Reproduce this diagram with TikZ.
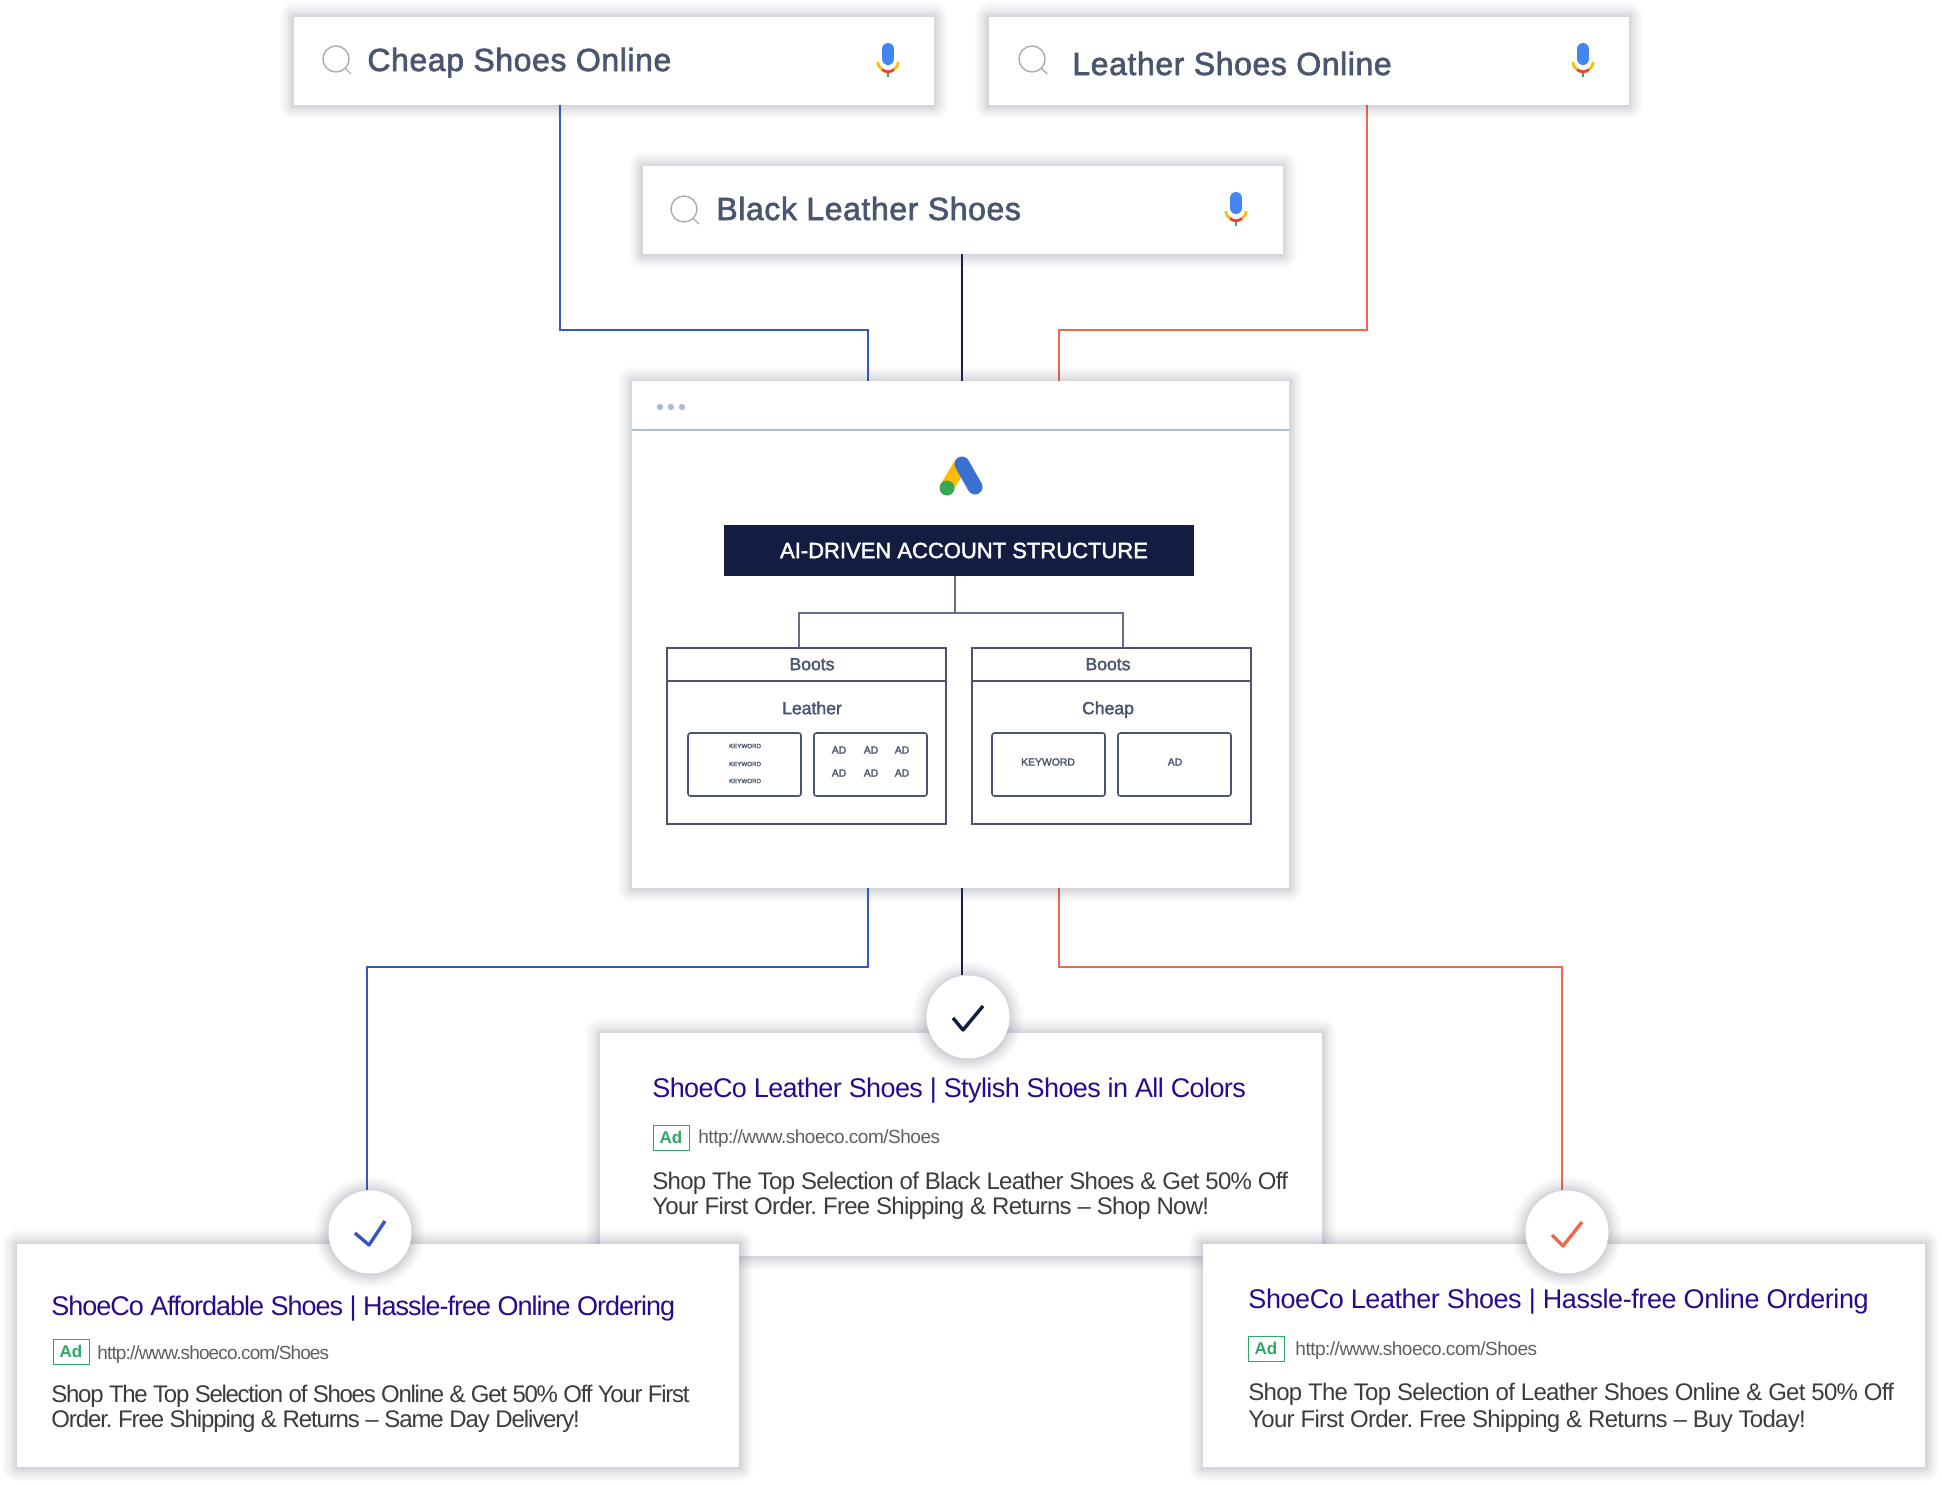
\documentclass[tikz,border=0pt]{standalone}
\usepackage{fontspec}
\setmainfont{Liberation Sans}
\newfontfamily\uifont[FakeBold=2]{Liberation Sans}
\usetikzlibrary{positioning,calc,backgrounds}
\definecolor{linkblue}{HTML}{3558C0}
\definecolor{linkred}{HTML}{F0674F}
\definecolor{navyink}{HTML}{141C42}
\definecolor{slateink}{HTML}{4A5570}
\definecolor{adpurple}{HTML}{2A0A8C}
\definecolor{adgreen}{HTML}{2FA866}
\definecolor{bodygray}{HTML}{3C3C3C}
\definecolor{urlgray}{HTML}{5F5F5F}
\definecolor{ruleblue}{HTML}{AEBBD6}
\definecolor{shadowgray}{HTML}{555A70}
\definecolor{gblue}{HTML}{4285F4}
\definecolor{gred}{HTML}{EA4335}
\definecolor{gyellow}{HTML}{FBBC04}
\definecolor{ggreen}{HTML}{34A853}
\tikzset{
  shadowring/.style={preaction={draw=shadowgray,opacity=.028,line width=#1,line join=round}},
  softshadow/.style={shadowring/.list={1.5pt,2.5pt,3.5pt,4.5pt,5.5pt,7pt,8.5pt,10pt,12pt,14pt}},
  searchbox/.style={fill=white,softshadow,minimum width=320pt,minimum height=44pt,inner sep=0pt},
  adcard/.style={fill=white,softshadow,minimum width=361pt,minimum height=111.5pt,inner sep=0pt},
  checkdisc/.style={circle,fill=white,softshadow,minimum size=41.5pt,inner sep=0pt},
  searchtext/.style={anchor=base west,inner sep=0pt,text=slateink,font=\uifont\fontsize{16}{16}\selectfont\addfontfeatures{LetterSpace=1.8}},
  boxtext/.style={text=slateink,text height=7.2pt,text depth=1pt,font=\uifont\fontsize{8.8}{8.8}\selectfont,inner sep=0pt},
  tinytext/.style={text=slateink,font=\uifont\fontsize{3.1}{3.1}\selectfont,inner sep=0pt},
  leaftext/.style={text=slateink,font=\uifont\fontsize{5.2}{5.2}\selectfont,inner sep=0pt},
  adtitle/.style={anchor=base west,inner sep=0pt,text=adpurple,font=\fontsize{13.5}{13.5}\selectfont\addfontfeatures{LetterSpace=#1}},
  adtitle/.default=-2.2,
  adurl/.style={anchor=base west,inner sep=0pt,text=urlgray,font=\fontsize{9.5}{9.5}\selectfont\addfontfeatures{LetterSpace=#1}},
  adurl/.default=-2.6,
  adbody/.style={anchor=base west,inner sep=0pt,text=bodygray,font=\fontsize{12}{12}\selectfont\addfontfeatures{LetterSpace=#1}},
  adbody/.default=-3.1,
  adtag/.style={draw=adgreen,line width=.5pt,text=adgreen,minimum width=18pt,minimum height=12.5pt,inner sep=0pt,font=\bfseries\fontsize{8.5}{8.5}\selectfont},
  groupbox/.style={draw=slateink,line width=1pt,minimum width=139.5pt,minimum height=88pt,inner sep=0pt},
  cellbox/.style={draw=slateink,line width=.8pt,rounded corners=1.2pt,minimum width=56.5pt,minimum height=31.5pt,inner sep=0pt},
  wire/.style={line width=1.4pt},
  tick/.style={line width=1.7pt,line join=round},
  pics/magnifier/.style={code={
    \draw[draw=black!32,line width=.7pt](0,0)circle(13);
    \draw[draw=black!32,line width=.7pt](9,9)--(15,15);}},
  pics/mic/.style={code={
    \draw[draw=gblue,line width=6pt,line cap=round](0,-11)--(0,-1);
    \draw[draw=gyellow,line width=1.4pt](-10,2)..controls(-10,6)and(-8,8)..(-6,9.5);
    \draw[draw=gyellow,line width=1.4pt](10,2)..controls(10,6)and(8,8)..(6,9.5);
    \draw[draw=gred,line width=1.4pt](-6,9.5)..controls(-2,12.5)and(2,12.5)..(6,9.5);
    \draw[draw=ggreen,line width=1.4pt](0,12.5)--(0,17);}},
}
\frenchspacing
\begin{document}
\begin{tikzpicture}[x=.5pt,y=-.5pt]
  \useasboundingbox(0,0)rectangle(1942,1484);
  % search boxes
  \node[searchbox](cheap)at(613.5,61){};
  \node[searchbox](leatherq)at(1308.5,61){};
  \node[searchbox](blackq)at(962.5,210){};
  \node[searchtext](cheaptext)at(367,71){Cheap Shoes Online};
  \node[searchtext](leathertext)at(1072,75){Leather Shoes Online};
  \node[searchtext](blacktext)at(716,220){Black Leather Shoes};
  \pic at(336,59){magnifier};
  \pic at(1032,59){magnifier};
  \pic at(684,209){magnifier};
  \pic at(888,60){mic};
  \pic at(1583,60){mic};
  \pic at(1236,209){mic};
  % main panel
  \node[fill=white,softshadow,minimum width=328.5pt,minimum height=253.5pt,inner sep=0pt](panel)at(960.5,634.5){};
  \draw[ruleblue,line width=1.2pt](panel.west|-0,430)--(panel.east|-0,430);
  \foreach \dotx in {660,671,682}\fill[ruleblue](\dotx,407)circle(3.2);
  % logo
  \draw[gyellow,line width=7pt,line cap=round](947,487)--(961,464);
  \draw[gblue!85!black,line width=7.5pt,line cap=round](962,464)--(975,487);
  \fill[ggreen](947,488)circle(7.5);
  \node[fill=navyink,text=white,minimum width=235pt,minimum height=25.5pt,inner sep=0pt,font=\uifont\fontsize{11}{11}\selectfont](title)at(959,550.5){\hspace*{5pt}AI-DRIVEN ACCOUNT STRUCTURE};
  \node[groupbox](bootsl)at(806.5,736){};
  \node[groupbox](bootsr)at(1111.5,736){};
  \draw[slateink,line width=1pt](bootsl.west|-0,681)--(bootsl.east|-0,681);
  \draw[slateink,line width=1pt](bootsr.west|-0,681)--(bootsr.east|-0,681);
  \coordinate(fork)at(955,613);
  \draw[slateink!85,line width=1pt](title.south-|fork)--(fork);
  \draw[slateink!85,line width=1pt](bootsl.north-|799,0)|-(fork)-|(bootsr.north-|1123,0);
  \node[boxtext](bootstl)at(812,664){Boots};
  \node[boxtext](bootstr)at(1108,664){Boots};
  \node[boxtext](leatherlab)at(812,708){Leather};
  \node[boxtext](cheaplab)at(1108,708){Cheap};
  \node[cellbox](cella)at(744.5,764.5){};
  \node[cellbox](cellb)at(870.5,764.5){};
  \node[cellbox](cellc)at(1048.5,764.5){};
  \node[cellbox](celld)at(1174.5,764.5){};
  \foreach \kwy in {746,764,781}\node[tinytext](kw\kwy)at(745,\kwy){KEYWORD};
  \foreach \adx in {839,871,902}\foreach \ady in {750,773}\node[leaftext](ad\adx\ady)at(\adx,\ady){AD};
  \node[leaftext](kwone)at(1048,762){KEYWORD};
  \node[leaftext](adone)at(1175,762){AD};
  % ad cards
  \node[adcard](cardmid)at(961,1144.5){};
  \node[adcard](cardleft)at(378,1355.5){};
  \node[adcard](cardright)at(1564,1355.5){};
  \node[checkdisc](discmid)at(968,1017){};
  \node[checkdisc](discleft)at(370,1232){};
  \node[checkdisc](discright)at(1567,1232){};
  \draw[navyink,tick](953,1018)--(963,1030)--(983,1006);
  \draw[linkblue,tick](355,1233)--(369,1245)--(385,1221);
  \draw[linkred,tick](1552,1235)--(1563,1246)--(1582,1222);
  \node[adtitle](tmid)at(652,1097){ShoeCo Leather Shoes | Stylish Shoes in All Colors};
  \node[adtag](tagmid)at(671,1137.5){Ad};
  \node[adurl](umid)at(698,1143){http://www.shoeco.com/Shoes};
  \node[adbody](bmida)at(652,1189){Shop The Top Selection of Black Leather Shoes \& Get 50\% Off};
  \node[adbody](bmidb)at(652,1214){Your First Order. Free Shipping \& Returns – Shop Now!};
  \node[adtitle=-3.7](tleft)at(51,1315){ShoeCo Affordable Shoes | Hassle-free Online Ordering};
  \node[adtag](tagleft)at(71,1351.5){Ad};
  \node[adurl=-4.6](uleft)at(97,1359){http://www.shoeco.com/Shoes};
  \node[adbody=-5.3](blefta)at(51,1402){Shop The Top Selection of Shoes Online \& Get 50\% Off Your First};
  \node[adbody=-4.6](bleftb)at(51,1427){Order. Free Shipping \& Returns – Same Day Delivery!};
  \node[adtitle=-1.6](tright)at(1248,1308){ShoeCo Leather Shoes | Hassle-free Online Ordering};
  \node[adtag](tagright)at(1266,1348.5){Ad};
  \node[adurl](uright)at(1295,1355){http://www.shoeco.com/Shoes};
  \node[adbody](brighta)at(1248,1400){Shop The Top Selection of Leather Shoes Online \& Get 50\% Off};
  \node[adbody](brightb)at(1248,1427){Your First Order. Free Shipping \& Returns – Buy Today!};
  % connectors
  \coordinate(inblue)at(868,381);
  \coordinate(inred)at(1059,381);
  \coordinate(outblue)at(868,888);
  \coordinate(outred)at(1059,888);
  \coordinate(bendleft)at(367,967);
  \coordinate(bendright)at(1562,967);
  \begin{scope}[on background layer]
    \draw[linkblue,wire](cheap.south-|560,0)|-(inblue|-0,330)--(inblue);
    \draw[linkred,wire](leatherq.south-|1367,0)|-(inred|-0,330)--(inred);
    \draw[navyink,wire](blackq.south-|962,0)--(panel.north-|962,0);
    \draw[linkblue,wire](outblue)|-(bendleft)--(discleft.north-|bendleft);
    \draw[linkred,wire](outred)|-(bendright)--(discright.north-|bendright);
    \draw[navyink,wire](panel.south-|962,0)--(discmid.north-|962,0);
  \end{scope}
\end{tikzpicture}
\end{document}
